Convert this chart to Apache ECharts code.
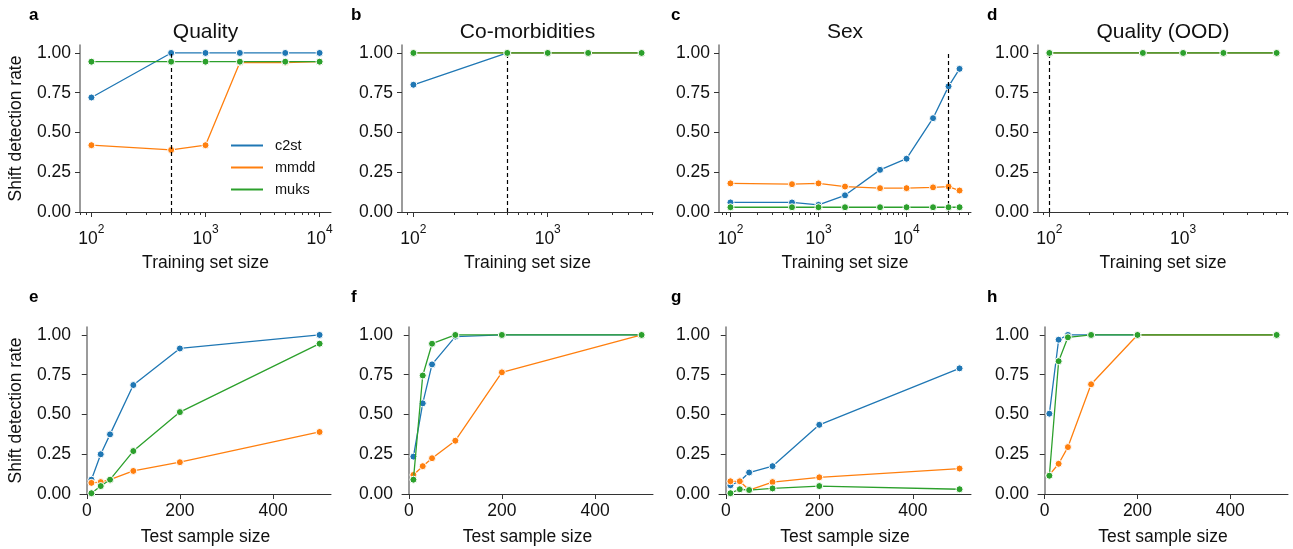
<!DOCTYPE html>
<html>
<head>
<meta charset="utf-8">
<script src="https://cdn.jsdelivr.net/npm/echarts@6/dist/echarts.min.js"></script>
<style>html,body{margin:0;padding:0;background:#fff}#chart{width:1293px;height:549px}</style>
</head>
<body>
<div id="chart"></div>
<script>
// top row: detection rate vs training set size
var trainQuality = [100, 500, 1000, 2000, 5000, 10000];
var qualityC2st = [0.72, 1, 1, 1, 1, 1];
var qualityMmdd = [0.42, 0.39, 0.42, 0.94, 0.94, 0.945];
var qualityMuks = [0.945, 0.945, 0.945, 0.945, 0.945, 0.945];

var trainComorb = [100, 500, 1000, 2000, 5000];
var comorbC2st = [0.8, 1, 1, 1, 1];
var comorbMmdd = [1, 1, 1, 1, 1];
var comorbMuks = [1, 1, 1, 1, 1];

var trainSex = [100, 500, 1000, 2000, 5000, 10000, 20000, 30000, 40000];
var sexC2st = [0.06, 0.06, 0.045, 0.105, 0.265, 0.335, 0.59, 0.79, 0.9];
var sexMmdd = [0.18, 0.175, 0.18, 0.16, 0.15, 0.15, 0.155, 0.16, 0.135];
var sexMuks = [0.03, 0.03, 0.03, 0.03, 0.03, 0.03, 0.03, 0.03, 0.03];

var trainOod = [100, 500, 1000, 2000, 5000];
var oodC2st = [1, 1, 1, 1, 1];
var oodMmdd = [1, 1, 1, 1, 1];
var oodMuks = [1, 1, 1, 1, 1];

// dashed line: training size used in the bottom row
var chosenTrain = [500, 500, 30000, 100];

// bottom row: detection rate vs test sample size
var testSizes = [10, 30, 50, 100, 200, 500];
var testQualityC2st = [0.09, 0.25, 0.375, 0.685, 0.915, 1.0];
var testQualityMmdd = [0.07, 0.075, 0.09, 0.145, 0.2, 0.39];
var testQualityMuks = [0.005, 0.05, 0.09, 0.27, 0.515, 0.945];

var testComorbC2st = [0.235, 0.57, 0.815, 0.99, 1, 1];
var testComorbMmdd = [0.12, 0.175, 0.225, 0.335, 0.765, 1];
var testComorbMuks = [0.09, 0.745, 0.945, 1, 1, 1];

var testSexC2st = [0.055, 0.08, 0.135, 0.175, 0.435, 0.79];
var testSexMmdd = [0.08, 0.08, 0.025, 0.075, 0.105, 0.16];
var testSexMuks = [0.005, 0.03, 0.025, 0.035, 0.05, 0.03];

var testOodC2st = [0.505, 0.97, 1, 1, 1, 1];
var testOodMmdd = [0.12, 0.19, 0.295, 0.69, 1, 1];
var testOodMuks = [0.115, 0.835, 0.985, 1, 1, 1];

var methods = ['c2st', 'mmdd', 'muks'];
var colors = ['#1f77b4', '#ff7f0e', '#2ca02c'];
var titles = ['Quality', 'Co-morbidities', 'Sex', 'Quality (OOD)'];
var letters = ['a', 'b', 'c', 'd', 'e', 'f', 'g', 'h'];
var yTicks = [0, 0.25, 0.5, 0.75, 1];
var testTicks = [0, 200, 400];

var panels = [
  {xs: trainQuality, ys: [qualityC2st, qualityMmdd, qualityMuks], log: true},
  {xs: trainComorb, ys: [comorbC2st, comorbMmdd, comorbMuks], log: true},
  {xs: trainSex, ys: [sexC2st, sexMmdd, sexMuks], log: true},
  {xs: trainOod, ys: [oodC2st, oodMmdd, oodMuks], log: true},
  {xs: testSizes, ys: [testQualityC2st, testQualityMmdd, testQualityMuks]},
  {xs: testSizes, ys: [testComorbC2st, testComorbMmdd, testComorbMuks]},
  {xs: testSizes, ys: [testSexC2st, testSexMmdd, testSexMuks]},
  {xs: testSizes, ys: [testOodC2st, testOodMmdd, testOodMuks]}
];

var FONT = 'Liberation Sans, Arial, sans-serif';
var cols = [[80, 251], [402, 251], [719, 252], [1038, 250]];
var rows = [[45, 167], [327, 167]];
var letterX = [29, 351, 671, 987];

var chart = echarts.init(document.getElementById('chart'));
var grid = [], xAxis = [], yAxis = [], series = [], graphic = [];

panels.forEach(function (p, i) {
  var row = i < 4 ? 0 : 1, col = i % 4;
  grid.push({left: cols[col][0], top: rows[row][0], width: cols[col][1], height: rows[row][1], outerBoundsMode: 'none'});
  var xi = xAxis.length;
  var base = {
    gridIndex: i,
    position: 'bottom',
    axisLine: {show: true, lineStyle: {color: '#333', width: 1}},
    splitLine: {show: false},
    nameLocation: 'middle',
    nameTextStyle: {fontFamily: FONT, fontSize: 17.5, color: '#111'}
  };
  if (p.log) {
    var lo = Math.log10(p.xs[0]), hi = Math.log10(p.xs[p.xs.length - 1]);
    var pad = (hi - lo) * 0.05;
    var min = Math.pow(10, lo - pad), max = Math.pow(10, hi + pad);
    var majors = [], minors = [];
    for (var d = 10; d <= 1e5; d *= 10) {
      if (d >= min && d <= max) majors.push(d);
      for (var k = 2; k < 10; k++) {
        if (k * d >= min && k * d <= max) minors.push(k * d);
      }
    }
    xAxis.push(Object.assign({}, base, {
      type: 'log', logBase: 10, min: min, max: max,
      name: 'Training set size', nameGap: 42,
      axisTick: {customValues: majors, length: 5, lineStyle: {color: '#333'}},
      axisLabel: {
        customValues: majors, margin: 12,
        formatter: function (v) { return '{b|10}{s|' + Math.round(Math.log10(v)) + '}'; },
        rich: {
          b: {fontFamily: FONT, fontSize: 17.5, color: '#111', lineHeight: 24, verticalAlign: 'bottom'},
          s: {fontFamily: FONT, fontSize: 12, color: '#111', lineHeight: 13, verticalAlign: 'top'}
        }
      }
    }));
    // minor ticks of the log axis
    xAxis.push({
      type: 'log', logBase: 10, min: min, max: max, gridIndex: i, position: 'bottom',
      axisLine: {show: false}, axisLabel: {show: false}, splitLine: {show: false},
      axisTick: {customValues: minors, length: 3, lineStyle: {color: '#333'}}
    });
  } else {
    xAxis.push(Object.assign({}, base, {
      type: 'value', min: -14.5, max: 524.5,
      name: 'Test sample size', nameGap: 34,
      axisTick: {customValues: testTicks, length: 5, lineStyle: {color: '#333'}},
      axisLabel: {customValues: testTicks, margin: 8, fontFamily: FONT, fontSize: 17.5, color: '#111'}
    }));
  }
  yAxis.push({
    type: 'value', gridIndex: i, min: 0, max: 1.05,
    name: col === 0 ? 'Shift detection rate' : '',
    nameLocation: 'middle', nameGap: 55,
    nameTextStyle: {fontFamily: FONT, fontSize: 17.5, color: '#111'},
    axisLine: {show: true, lineStyle: {color: '#7a7a7a', width: 1.5}},
    axisTick: {customValues: yTicks, length: 5, lineStyle: {color: '#333'}},
    axisLabel: {customValues: yTicks, margin: 9, fontFamily: FONT, fontSize: 17.5, color: '#111',
      formatter: function (v) { return v.toFixed(2); }},
    splitLine: {show: false}
  });
  p.ys.forEach(function (vals, m) {
    var s = {
      type: 'line', name: methods[m], xAxisIndex: xi, yAxisIndex: i,
      data: p.xs.map(function (x, j) { return [x, vals[j]]; }),
      symbol: 'circle', symbolSize: 7, showSymbol: true,
      lineStyle: {color: colors[m], width: 1.3},
      itemStyle: {color: colors[m], borderColor: '#fff', borderWidth: 1},
      z: 3 + m
    };
    if (m === 0 && p.log) {
      s.markLine = {
        silent: true, symbol: ['none', 'none'], label: {show: false},
        lineStyle: {color: '#000', type: [4, 3], width: 1.2},
        data: [[{coord: [chosenTrain[i], 0]}, {coord: [chosenTrain[i], 1]}]]
      };
    }
    series.push(s);
  });
  graphic.push({
    type: 'text', left: letterX[col], top: row === 0 ? 7 : 289,
    style: {text: letters[i], font: 'bold 17px ' + FONT, fill: '#000'}
  });
  if (row === 0) {
    graphic.push({
      type: 'text', x: cols[col][0] + cols[col][1] / 2, y: 32,
      style: {text: titles[col], font: '21px ' + FONT, fill: '#111', align: 'center', verticalAlign: 'middle'}
    });
  }
});

chart.setOption({
  animation: false,
  backgroundColor: '#fff',
  grid: grid,
  xAxis: xAxis,
  yAxis: yAxis,
  series: series,
  graphic: graphic,
  legend: {
    data: methods.map(function (m, k) {
      return {name: m, itemStyle: {color: colors[k], borderWidth: 0}};
    }),
    orient: 'vertical', left: 231, top: 138, padding: 0,
    icon: 'rect', itemWidth: 32, itemHeight: 2, itemGap: 7, selectedMode: false,
    itemStyle: {borderWidth: 0},
    textStyle: {fontFamily: FONT, fontSize: 14.5, color: '#111', padding: [0, 0, 0, 7]}
  }
});
window.addEventListener('resize', function () { chart.resize(); });
</script>
</body>
</html>
